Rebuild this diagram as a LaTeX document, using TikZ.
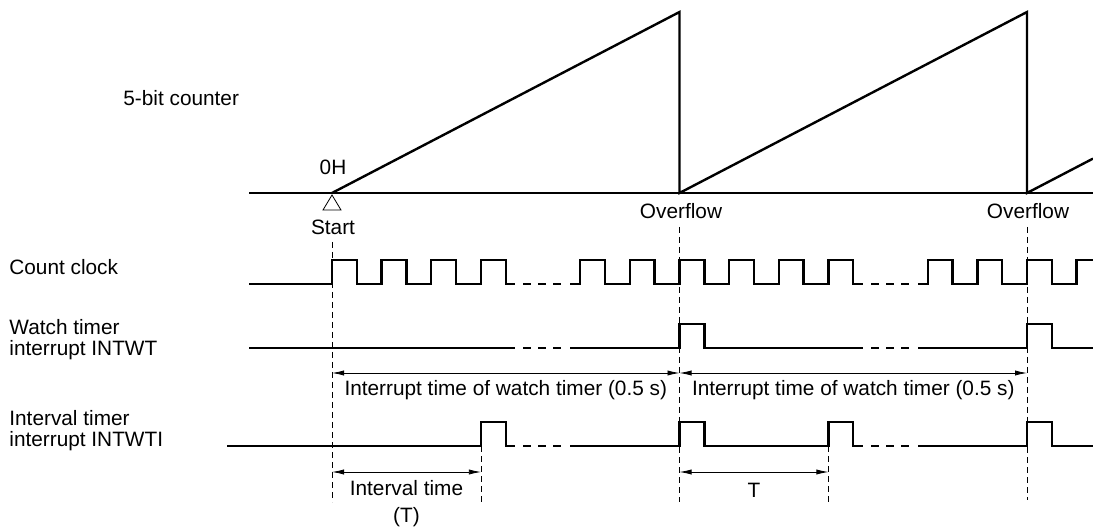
\documentclass[tikz,border=0pt]{standalone}
\usepackage{fontspec}
\setmainfont{Liberation Sans}
\usetikzlibrary{arrows.meta}

\tikzset{
  wave/.style={line width=1.2pt},
  gapline/.style={line width=1.2pt, dash pattern=on 4pt off 3.5pt},
  marker/.style={line width=0.4pt, dash pattern=on 3pt off 2pt},
  span/.style={line width=0.4pt, {Latex[length=6pt,width=2.6pt]}-{Latex[length=6pt,width=2.6pt]}},
  lbl/.style={font=\fontsize{10.4}{10.6}\selectfont, inner sep=0pt},
}

\begin{document}
\begin{tikzpicture}[x=0.5pt, y=-0.5pt]
  \useasboundingbox (0,0) rectangle (1093,529);

  % Time base
  \def\xs{332}
  \pgfmathsetmacro{\per}{(1027-332)/14}
  \pgfmathsetmacro{\hp}{\per/2}
  \pgfmathsetmacro{\xa}{\xs+7*\per}
  \pgfmathsetmacro{\xb}{\xs+14*\per}
  \pgfmathsetmacro{\xi}{\xs+3*\per}
  \pgfmathsetmacro{\xj}{\xs+10*\per}
  % Signal levels (low)
  \def\clo{284}
  \def\wlo{348}
  \def\ilo{446}

  % Signal names
  \node[lbl, anchor=west] (counter) at (123,98) {5-bit counter};
  \node[lbl, anchor=west] (clock) at (9,267) {Count clock};
  \node[lbl, anchor=west, align=left] (watch) at (9,340) {Watch timer\\interrupt INTWT};
  \node[lbl, anchor=west, align=left] (interval) at (9,431) {Interval timer\\interrupt INTWTI};

  % 5-bit counter
  \draw[wave] (249,193) -- (1093,193);
  \draw[wave] (\xs,193) -- (\xa,12) -- (\xa,193) -- (\xb,12) -- (\xb,193) -- (1093,158.6);
  \node[lbl] (zero) at (333,167) {0H};
  \draw[line width=0.4pt, fill=white] (\xs,195) -- (341,210) -- (323,210) -- cycle;
  \node[lbl] (start) at (333,227) {Start};
  \node[lbl] (ovfA) at (681,211) {Overflow};
  \node[lbl] (ovfB) at (1028,211) {Overflow};

  % Count clock
  \draw[wave] (249,\clo) foreach \k in {0,...,3} {
      -- ({\xs+\k*\per},\clo) -- ++(0,-24) -- ++(\hp,0) -- ++(0,24)} -- (515,\clo);
  \draw[wave] (570,\clo) foreach \k in {5,...,10} {
      -- ({\xs+\k*\per},\clo) -- ++(0,-24) -- ++(\hp,0) -- ++(0,24)} -- (863,\clo);
  \draw[wave] (918,\clo) foreach \k in {12,13,14} {
      -- ({\xs+\k*\per},\clo) -- ++(0,-24) -- ++(\hp,0) -- ++(0,24)}
      -- ({\xs+15*\per},\clo) -- ++(0,-24) -- (1093,260);

  % Watch timer interrupt
  \draw[wave] (249,\wlo) -- (515,\wlo);
  \draw[wave] (570,\wlo) -- (\xa,\wlo) -- ++(0,-24) -- ++(\hp,0) -- ++(0,24) -- (863,\wlo);
  \draw[wave] (918,\wlo) -- (\xb,\wlo) -- ++(0,-24) -- ++(\hp,0) -- ++(0,24) -- (1093,\wlo);

  % Interval timer interrupt
  \draw[wave] (227,\ilo) -- (\xi,\ilo) -- ++(0,-24) -- ++(\hp,0) -- ++(0,24) -- (515,\ilo);
  \draw[wave] (570,\ilo) -- (\xa,\ilo) -- ++(0,-24) -- ++(\hp,0) -- ++(0,24)
      -- (\xj,\ilo) -- ++(0,-24) -- ++(\hp,0) -- ++(0,24) -- (863,\ilo);
  \draw[wave] (918,\ilo) -- (\xb,\ilo) -- ++(0,-24) -- ++(\hp,0) -- ++(0,24) -- (1093,\ilo);

  % Omitted stretches
  \foreach \y in {\clo,\wlo,\ilo} {
    \draw[gapline] (523,\y) -- (562,\y);
    \draw[gapline] (871,\y) -- (910,\y);
  }

  % Marker lines
  \draw[marker] (\xs,242) -- (\xs,502);
  \draw[marker] (\xa,227) -- (\xa,502);
  \draw[marker] (\xb,227) -- (\xb,500);
  \draw[marker] (\xi,446) -- (\xi,502);
  \draw[marker] (\xj,446) -- (\xj,502);

  % Time spans
  \coordinate (w0) at (\xs,373);
  \coordinate (w1) at (\xa,373);
  \coordinate (w2) at (\xb,373);
  \coordinate (i0) at (\xs,472);
  \coordinate (i1) at (\xi,472);
  \coordinate (j0) at (\xa,472);
  \coordinate (j1) at (\xj,472);
  \draw[span] (w0) -- node[lbl, yshift=-8.5pt] (wtA) {Interrupt time of watch timer (0.5 s)} (w1);
  \draw[span] (w1) -- node[lbl, yshift=-8.5pt] (wtB) {Interrupt time of watch timer (0.5 s)} (w2);
  \draw[span] (i0) -- node[lbl, align=center, font=\fontsize{10.4}{13.5}\selectfont, yshift=-15.8pt] (itime) {Interval time\\(T)} (i1);
  \draw[span] (j0) -- node[lbl, yshift=-9pt] (tlabel) {T} (j1);
\end{tikzpicture}
\end{document}
